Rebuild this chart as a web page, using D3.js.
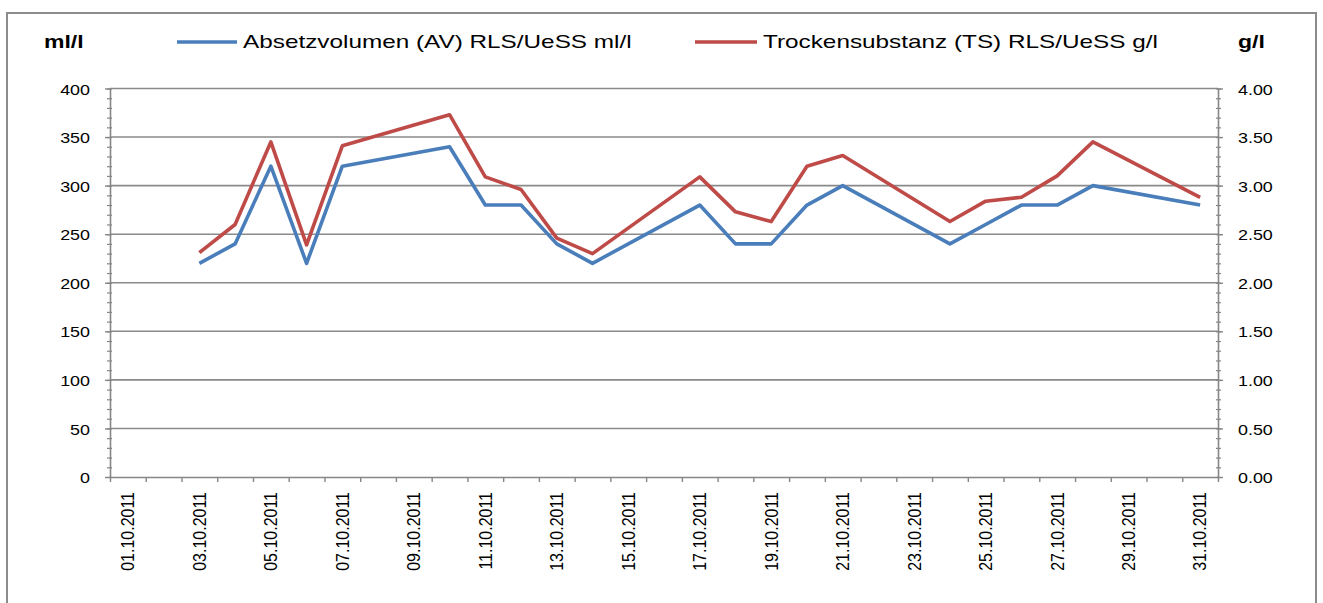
<!DOCTYPE html>
<html>
<head>
<meta charset="utf-8">
<script src="https://cdn.jsdelivr.net/npm/d3@7"></script>
<style>
  html, body { margin: 0; padding: 0; background: #fff; }
  svg { display: block; font-family: "Liberation Sans", Arial, sans-serif; }
</style>
</head>
<body>
<svg id="chart" width="1323" height="603"></svg>
<script>
// ---- data ----
const categories = ["01.10.2011","02.10.2011","03.10.2011","04.10.2011","05.10.2011","06.10.2011","07.10.2011","08.10.2011","09.10.2011","10.10.2011","11.10.2011","12.10.2011","13.10.2011","14.10.2011","15.10.2011","16.10.2011","17.10.2011","18.10.2011","19.10.2011","20.10.2011","21.10.2011","22.10.2011","23.10.2011","24.10.2011","25.10.2011","26.10.2011","27.10.2011","28.10.2011","29.10.2011","30.10.2011","31.10.2011"];
const absetzvolumen = [null,null,220,240,320,220,320,null,null,340,280,280,240,220,null,null,280,240,240,280,300,null,null,240,260,280,280,300,null,null,280];
const trockensubstanz = [null,null,2.31,2.60,3.45,2.39,3.41,null,null,3.73,3.09,2.96,2.46,2.30,null,null,3.09,2.73,2.63,3.20,3.31,null,null,2.63,2.84,2.88,3.10,3.45,null,null,2.88];
const xTickLabels = ["01.10.2011","03.10.2011","05.10.2011","07.10.2011","09.10.2011","11.10.2011","13.10.2011","15.10.2011","17.10.2011","19.10.2011","21.10.2011","23.10.2011","25.10.2011","27.10.2011","29.10.2011","31.10.2011"];
const leftTicks = [0,50,100,150,200,250,300,350,400];
const rightTicks = [0,0.5,1,1.5,2,2.5,3,3.5,4];
const seriesNames = ["Absetzvolumen (AV) RLS/UeSS ml/l","Trockensubstanz (TS) RLS/UeSS g/l"];
const leftUnit = "ml/l", rightUnit = "g/l";

// ---- layout ----
const L = 110, R = 1218, T = 88.5, B = 477;
const SX = 1.28; // horizontal text stretch
const gridColor = "#8a8a8a", axisColor = "#868686";
const blue = "#4a7ebb", red = "#be4b48";

const svg = d3.select("#chart");

// outer border
svg.append("rect").attr("x", 7).attr("y", 13).attr("width", 1309).attr("height", 620)
  .attr("fill", "#fff").attr("stroke", "#8c8c8c").attr("stroke-width", 2);

const x = d3.scaleBand().domain(categories).range([L, R]).padding(0);
const xb = d3.scaleLinear().domain([0, categories.length]).range([L, R]);
const yL = d3.scaleLinear().domain([0, 400]).range([B, T]);
const yR = d3.scaleLinear().domain([0, 4]).range([B, T]);

// gridlines
svg.append("g").selectAll("line").data(leftTicks.filter(d => d > 0)).join("line")
  .attr("x1", L).attr("x2", R).attr("y1", d => yL(d)).attr("y2", d => yL(d))
  .attr("stroke", gridColor).attr("stroke-width", 1.6);

function styleAxis(g) {
  g.select(".domain").attr("stroke", axisColor).attr("stroke-width", 1.6);
  g.selectAll(".tick line").attr("stroke", axisColor).attr("stroke-width", 1.4);
}

// left minor ticks (crossing)
const lm = svg.append("g").attr("transform", `translate(${L},0)`)
  .call(d3.axisLeft(yL).tickValues(d3.range(0, 401, 10)).tickSize(3).tickSizeOuter(0).tickFormat(""));
lm.select(".domain").remove();
lm.selectAll(".tick line").attr("x1", -3).attr("x2", 2).attr("stroke", axisColor).attr("stroke-width", 1.2);

// left axis
const la = svg.append("g").attr("transform", `translate(${L},0)`)
  .call(d3.axisLeft(yL).tickValues(leftTicks).tickSize(5).tickSizeOuter(0).tickFormat(d3.format("d")));
styleAxis(la);
la.selectAll(".tick text").attr("font-size", 14).attr("fill", "#000")
  .attr("x", -20 / SX).attr("dy", "0.4em").attr("transform", `scale(${SX},1)`);

// right minor ticks
const rm = svg.append("g").attr("transform", `translate(${R},0)`)
  .call(d3.axisRight(yR).tickValues(d3.range(0, 41, 1).map(d => d / 10)).tickSize(3).tickSizeOuter(0).tickFormat(""));
rm.select(".domain").remove();
rm.selectAll(".tick line").attr("x1", -2).attr("x2", 3).attr("stroke", axisColor).attr("stroke-width", 1.2);

// right axis
const ra = svg.append("g").attr("transform", `translate(${R},0)`)
  .call(d3.axisRight(yR).tickValues(rightTicks).tickSize(5).tickSizeOuter(0).tickFormat(d3.format(".2f")));
styleAxis(ra);
ra.selectAll(".tick text").attr("font-size", 14).attr("fill", "#000")
  .attr("x", 20 / SX).attr("dy", "0.4em").attr("transform", `scale(${SX},1)`);

// bottom axis: boundary ticks
const bt = svg.append("g").attr("transform", `translate(0,${B})`)
  .call(d3.axisBottom(xb).tickValues(d3.range(0, categories.length + 1)).tickSize(5).tickSizeOuter(0).tickFormat(""));
styleAxis(bt);

// bottom axis: labels
const bl = svg.append("g").attr("transform", `translate(0,${B})`)
  .call(d3.axisBottom(x).tickValues(xTickLabels).tickSize(0).tickSizeOuter(0));
bl.select(".domain").remove();
bl.selectAll(".tick text")
  .attr("font-size", 16).attr("fill", "#000")
  .attr("text-anchor", "end").attr("x", 0).attr("y", 0).attr("dy", "0.36em")
  .attr("transform", `translate(0,15) scale(1.1,1) rotate(-90)`);

// lines
const ptsA = categories.map((c, i) => ({c, v: absetzvolumen[i]})).filter(d => d.v != null);
const ptsT = categories.map((c, i) => ({c, v: trockensubstanz[i]})).filter(d => d.v != null);
const cx = d => x(d.c) + x.bandwidth() / 2;

svg.append("path").datum(ptsA)
  .attr("d", d3.line().x(cx).y(d => yL(d.v)))
  .attr("fill", "none").attr("stroke", blue).attr("stroke-width", 3.6).attr("stroke-linejoin", "round");
svg.append("path").datum(ptsT)
  .attr("d", d3.line().x(cx).y(d => yR(d.v)))
  .attr("fill", "none").attr("stroke", red).attr("stroke-width", 3.6).attr("stroke-linejoin", "round");

// unit labels
function stretchedText(xp, yp, txt, size, weight, anchor) {
  svg.append("text").attr("transform", `translate(${xp},${yp}) scale(${SX},1)`)
    .attr("font-size", size).attr("font-weight", weight).attr("text-anchor", anchor || "start")
    .attr("fill", "#000").text(txt);
}
stretchedText(44, 48, leftUnit, 18, "bold");
stretchedText(1238, 48, rightUnit, 18, "bold");

// legend
const legend = [
  {name: seriesNames[0], color: blue, x1: 177, x2: 237, tx: 243},
  {name: seriesNames[1], color: red, x1: 695, x2: 757, tx: 763}
];
legend.forEach(l => {
  svg.append("line").attr("x1", l.x1).attr("x2", l.x2).attr("y1", 42).attr("y2", 42)
    .attr("stroke", l.color).attr("stroke-width", 3.6);
  stretchedText(l.tx, 48, l.name, 19, "normal");
});
</script>
</body>
</html>
